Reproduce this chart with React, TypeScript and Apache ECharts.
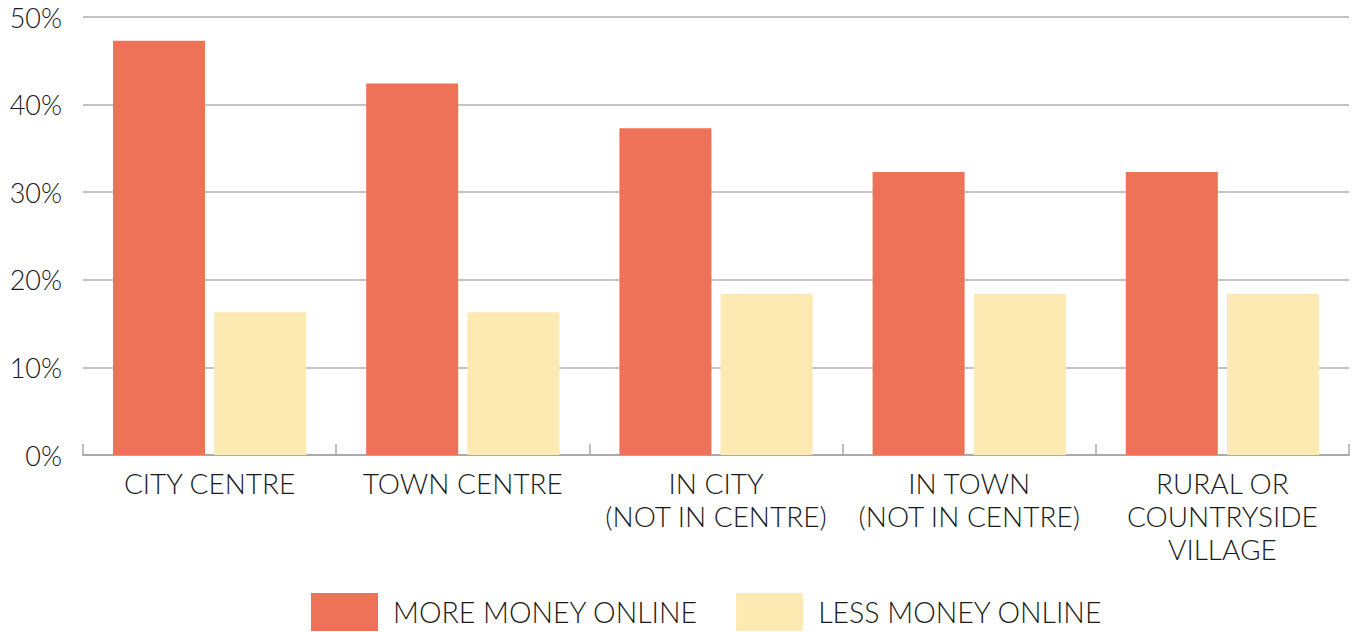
import React, { useEffect, useRef } from "react";
import * as echarts from "echarts";

const categories = [
  "CITY CENTRE",
  "TOWN CENTRE",
  "IN CITY\n(NOT IN CENTRE)",
  "IN TOWN\n(NOT IN CENTRE)",
  "RURAL OR\nCOUNTRYSIDE\nVILLAGE",
];
const moreMoneyOnline = [47.3, 42.4, 37.3, 32.3, 32.3];
const lessMoneyOnline = [16.3, 16.3, 18.4, 18.4, 18.4];
const seriesNames = ["MORE MONEY ONLINE", "LESS MONEY ONLINE"];
const yTicks = [0, 10, 20, 30, 40, 50];

const FONT = "Lato";
const WEIGHT = 300;
const TEXT = "#1a1a1a";

export default function App() {
  const ref = useRef<HTMLDivElement>(null);
  useEffect(() => {
    if (!ref.current) return;
    const chart = echarts.init(ref.current, null, { renderer: "svg" });
    chart.setOption({
      animation: false,
      textStyle: { fontFamily: FONT, color: TEXT, fontWeight: WEIGHT },
      grid: { left: 83, right: 5, top: 17, bottom: 177, containLabel: false },
      legend: {
        bottom: 1,
        left: 311,
        padding: 0,
        itemWidth: 67,
        itemHeight: 38,
        itemGap: 38,
        icon: "rect",
        textStyle: { fontFamily: FONT, fontWeight: WEIGHT, fontSize: 28.5, color: TEXT, padding: [0, 0, 0, 10] },
        data: seriesNames,
      },
      xAxis: {
        type: "category",
        data: categories,
        axisLine: { show: true, lineStyle: { color: "#aaaaaa", width: 2 } },
        axisTick: { show: true, inside: true, length: 11, lineStyle: { color: "#aaaaaa", width: 1.5 } },
        axisLabel: {
          fontFamily: FONT,
          fontWeight: WEIGHT,
          fontSize: 28,
          color: TEXT,
          lineHeight: 33,
          margin: 11,
          interval: 0,
        },
      },
      yAxis: {
        type: "value",
        min: yTicks[0],
        max: yTicks[yTicks.length - 1],
        interval: 10,
        axisLine: { show: false },
        axisTick: { show: false },
        splitLine: { show: true, lineStyle: { color: "#b0b0b0", width: 1.5 } },
        axisLabel: {
          formatter: "{value}%",
          fontFamily: FONT,
          fontWeight: WEIGHT,
          fontSize: 27,
          color: TEXT,
          margin: 21,
        },
      },
      series: [
        {
          name: seriesNames[0],
          type: "bar",
          data: moreMoneyOnline,
          barWidth: 92,
          barGap: "10%",
          itemStyle: { color: "#EE7257" },
        },
        {
          name: seriesNames[1],
          type: "bar",
          data: lessMoneyOnline,
          barWidth: 92,
          barGap: "10%",
          itemStyle: { color: "#FDEAB2" },
        },
      ],
    });
    return () => chart.dispose();
  }, []);
  return <div ref={ref} style={{ width: 1354, height: 632, position: "absolute", left: 0, top: 0 }} />;
}
